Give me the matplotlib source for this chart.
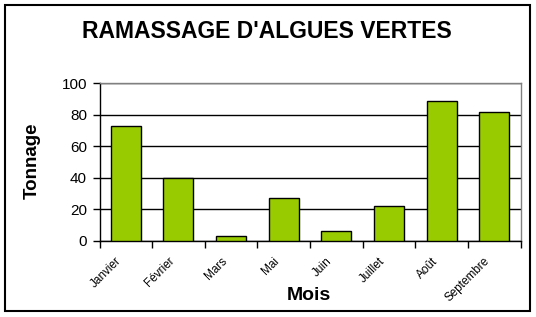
import matplotlib
matplotlib.use("Agg")
import matplotlib.pyplot as plt
import matplotlib.transforms as mtransforms
from matplotlib.patches import Rectangle
import numpy as np

months = ["Janvier", "Février", "Mars", "Mai", "Juin", "Juillet", "Août", "Septembre"]
tonnage = [73, 40, 3, 27, 6, 22, 89, 82]
yticks = [0, 20, 40, 60, 80, 100]

plt.rcParams['font.family'] = ['Liberation Sans', 'DejaVu Sans']

W, H = 536, 317
fig = plt.figure(figsize=(W / 100, H / 100), dpi=100)
fig.patch.set_facecolor('white')

left, right, top, bottom = 99.5, 520.5, 83.3, 240.7
ax = fig.add_axes([left / W, 1 - bottom / H, (right - left) / W, (bottom - top) / H])

x = np.arange(len(months))
ax.bar(x, tonnage, width=0.57, color='#99CC00', edgecolor='black', linewidth=1, zorder=3)

ax.set_xlim(-0.5, len(months) - 0.5)
ax.set_ylim(0, 100)
ax.set_yticks(yticks)
ax.set_yticklabels([str(v) for v in yticks], fontsize=11)
ax.yaxis.grid(True, color='black', linewidth=1, zorder=0)
ax.set_axisbelow(True)

ax.set_xticks(x)
ax.set_xticks(np.arange(len(months) + 1) - 0.5, minor=True)
ax.tick_params(axis='x', which='major', length=0, pad=4)
ax.tick_params(axis='x', which='minor', length=5, direction='out', color='black', width=1)
ax.tick_params(axis='y', length=5, direction='out', color='black', width=1, pad=4)
ax.set_xticklabels(months, fontsize=8.5, rotation=45, ha='right', va='center', rotation_mode='anchor')
offset = mtransforms.ScaledTranslation(-6 / 100, -13 / 100, fig.dpi_scale_trans)
for lbl in ax.get_xticklabels():
    lbl.set_transform(lbl.get_transform() + offset)

for s in ['top', 'right']:
    ax.spines[s].set_color('#808080')
    ax.spines[s].set_linewidth(1)
for s in ['left', 'bottom']:
    ax.spines[s].set_color('black')
    ax.spines[s].set_linewidth(1)

fig.text(267 / W, 1 - 32 / H, "RAMASSAGE D'ALGUES VERTES", fontsize=16.5, fontweight='bold',
         ha='center', va='center')
fig.text(32 / W, 1 - 161 / H, "Tonnage", fontsize=13.5, fontweight='bold', rotation=90,
         ha='center', va='center')
fig.text(309 / W, 1 - 295 / H, "Mois", fontsize=14, fontweight='bold', ha='center', va='center')

fig.patches.append(Rectangle((5 / W, 1 - 311 / H), 525 / W, 306 / H, transform=fig.transFigure,
                             fill=False, edgecolor='black', linewidth=1.5))

fig.savefig('out.png', dpi=100)
